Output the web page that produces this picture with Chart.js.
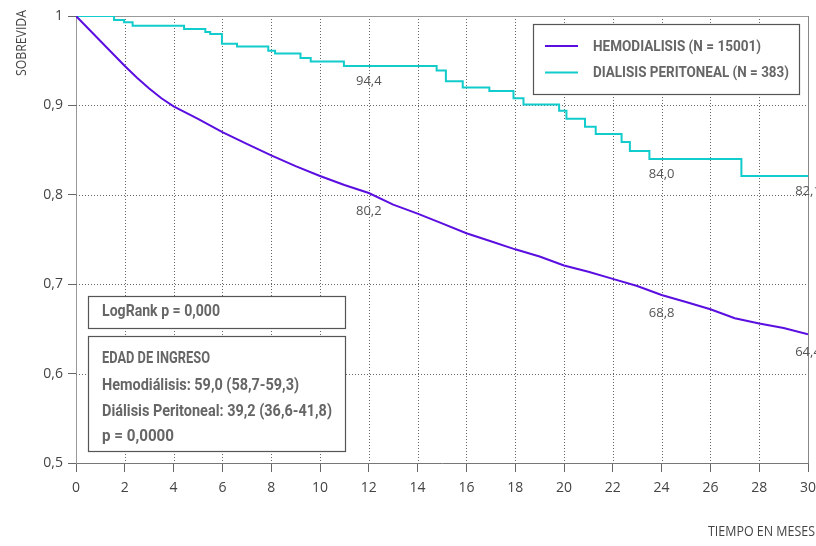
<!DOCTYPE html>
<html>
<head>
<meta charset="utf-8">
<script src="https://cdn.jsdelivr.net/npm/chart.js@4/dist/chart.umd.min.js"></script>
<style>
html, body { margin: 0; padding: 0; background: #fff; }
#wrap { width: 816px; height: 546px; }
</style>
</head>
<body>
<div id="wrap"><canvas id="chartCanvas" width="816" height="546"></canvas></div>
<script>
// Sobrevida - hemodialisis (curva casi continua)
const hemoMonths = [0, 0.5, 1, 1.5, 2, 2.5, 3, 3.5, 4, 5, 6, 7, 8, 9, 10, 11, 12, 13, 14, 15, 16, 17, 18, 19, 20, 21, 22, 23, 24, 25, 26, 27, 28, 29, 30];
const hemoSurv = [1, 0.986, 0.972, 0.958, 0.944, 0.931, 0.919, 0.908, 0.899, 0.885, 0.870, 0.857, 0.844, 0.832, 0.821, 0.811, 0.802, 0.789, 0.779, 0.768, 0.757, 0.748, 0.739, 0.731, 0.721, 0.714, 0.706, 0.698, 0.688, 0.680, 0.672, 0.662, 0.656, 0.651, 0.644];

// Sobrevida - dialisis peritoneal (escalones)
const periMonths = [0, 1.56, 1.97, 2.32, 4.43, 5.3, 5.5, 5.98, 6.6, 7.88, 8.16, 9.2, 9.62, 10.98, 14.78, 15.16, 15.85, 16.94, 17.93, 18.34, 19.8, 20.1, 20.86, 21.3, 22.36, 22.7, 23.5, 27.27, 30];
const periSurv = [1, 0.9955, 0.993, 0.989, 0.9855, 0.982, 0.98, 0.969, 0.966, 0.961, 0.958, 0.953, 0.949, 0.944, 0.939, 0.927, 0.920, 0.916, 0.908, 0.901, 0.894, 0.885, 0.876, 0.868, 0.859, 0.849, 0.840, 0.821, 0.821];

const labelMonths = [12, 24, 30];
const xTicks = [0, 2, 4, 6, 8, 10, 12, 14, 16, 18, 20, 22, 24, 26, 28, 30];
const yTicks = [0.5, 0.6, 0.7, 0.8, 0.9, 1];

const statLines = ['EDAD DE INGRESO', 'Hemodiálisis: 59,0 (58,7-59,3)', 'Diálisis Peritoneal: 39,2 (36,6-41,8)', 'p = 0,0000'];
const logRankText = 'LogRank p = 0,000';

const toPoints = (xs, ys) => xs.map((x, i) => ({ x: x, y: ys[i] }));

// valor de la curva en un mes dado (ultimo punto <= mes)
function valueAt(xs, ys, m) {
    let v = ys[0];
    for (let i = 0; i < xs.length; i++) {
        if (xs[i] <= m + 1e-9) v = ys[i];
    }
    return v;
}

const fmt = v => (v * 100).toFixed(1).replace('.', ',');

// texto ajustado a un ancho fijo (fuente condensada)
function fitText(ctx, text, x, y, w) {
    const m = ctx.measureText(text).width;
    ctx.save();
    ctx.translate(x, y);
    ctx.scale(w / m, 1);
    ctx.fillText(text, 0, 0);
    ctx.restore();
}

const extras = {
    id: 'extras',
    beforeDatasetsDraw(chart) {
        const { ctx, chartArea: a } = chart;
        const xs = chart.scales.x, ys = chart.scales.y;
        ctx.save();
        // rejilla punteada
        ctx.lineWidth = 1;
        ctx.strokeStyle = '#666';
        ctx.setLineDash([1, 2]);
        ctx.beginPath();
        xs.ticks.forEach(t => {
            const px = Math.round(xs.getPixelForValue(t.value)) + 0.5;
            if (t.value > xs.min && t.value < xs.max) {
                ctx.moveTo(px, a.top);
                ctx.lineTo(px, a.bottom);
            }
        });
        ys.ticks.forEach(t => {
            const py = Math.round(ys.getPixelForValue(t.value)) + 0.5;
            if (t.value > ys.min && t.value < ys.max) {
                ctx.moveTo(a.left, py);
                ctx.lineTo(a.right, py);
            }
        });
        ctx.stroke();
        ctx.setLineDash([]);
        // marco superior y derecho
        ctx.strokeStyle = '#999';
        ctx.beginPath();
        ctx.moveTo(a.left, Math.round(a.top) + 0.5);
        ctx.lineTo(a.right, Math.round(a.top) + 0.5);
        ctx.stroke();
        ctx.strokeStyle = '#888';
        ctx.beginPath();
        ctx.moveTo(Math.round(a.right) + 0.5, a.top);
        ctx.lineTo(Math.round(a.right) + 0.5, a.bottom);
        ctx.stroke();
        ctx.restore();
    },
    afterDatasetsDraw(chart) {
        const { ctx } = chart;
        const xs = chart.scales.x, ys = chart.scales.y;

        // etiquetas de valores
        ctx.save();
        ctx.font = '13px "Open Sans", sans-serif';
        ctx.fillStyle = '#555';
        ctx.textAlign = 'center';
        ctx.textBaseline = 'middle';
        labelMonths.forEach(m => {
            const h = valueAt(hemoMonths, hemoSurv, m);
            const p = valueAt(periMonths, periSurv, m);
            ctx.fillText(fmt(h), xs.getPixelForValue(m), ys.getPixelForValue(h) + 18);
            ctx.fillText(fmt(p), xs.getPixelForValue(m), ys.getPixelForValue(p) + 15);
        });
        ctx.restore();

        // leyenda
        ctx.save();
        ctx.fillStyle = '#fff';
        ctx.fillRect(533, 24, 266, 70);
        ctx.strokeStyle = '#555';
        ctx.lineWidth = 1.2;
        ctx.strokeRect(533.5, 24.5, 266, 70);
        const legW = [168, 196];
        chart.data.datasets.forEach((ds, i) => {
            const y = 46 + i * 26.5;
            ctx.strokeStyle = ds.borderColor;
            ctx.lineWidth = 2;
            ctx.beginPath();
            ctx.moveTo(545, y);
            ctx.lineTo(578, y);
            ctx.stroke();
            ctx.font = 'bold 14px Roboto, sans-serif';
            ctx.fillStyle = '#666';
            ctx.textBaseline = 'middle';
            fitText(ctx, ds.label, 593, y + 1, legW[i]);
        });
        ctx.restore();

        // cuadros de estadisticos
        ctx.save();
        ctx.fillStyle = '#fff';
        ctx.fillRect(88, 296, 258, 32);
        ctx.fillRect(88, 336, 258, 116);
        ctx.strokeStyle = '#555';
        ctx.lineWidth = 1.2;
        ctx.strokeRect(88.5, 296.5, 257, 32);
        ctx.strokeRect(88.5, 336.5, 257, 115);
        ctx.font = 'bold 16px Roboto, sans-serif';
        ctx.fillStyle = '#666';
        ctx.textBaseline = 'middle';
        fitText(ctx, logRankText, 102, 312, 118);
        const statW = [108, 197, 230, 72];
        const statY = [359, 386, 412, 437];
        statLines.forEach((t, i) => fitText(ctx, t, 102, statY[i], statW[i]));
        ctx.restore();

        // titulos de ejes
        ctx.save();
        ctx.font = '14px "Open Sans", sans-serif';
        ctx.fillStyle = '#444';
        ctx.textBaseline = 'middle';
        fitText(ctx, 'TIEMPO EN MESES', 708, 532, 107);
        ctx.translate(22.5, 76);
        ctx.rotate(-Math.PI / 2);
        fitText(ctx, 'SOBREVIDA', 0, 0, 66);
        ctx.restore();
    }
};

const ctx = document.getElementById('chartCanvas').getContext('2d');
new Chart(ctx, {
    type: 'line',
    data: {
        datasets: [{
            label: 'HEMODIALISIS (N = 15001)',
            data: toPoints(hemoMonths, hemoSurv),
            borderColor: '#5a0ee0',
            borderWidth: 2,
            pointRadius: 0,
            tension: 0,
            fill: false
        }, {
            label: 'DIALISIS PERITONEAL (N = 383)',
            data: toPoints(periMonths, periSurv),
            borderColor: '#12cccc',
            borderWidth: 2,
            pointRadius: 0,
            stepped: 'before',
            fill: false
        }]
    },
    options: {
        responsive: false,
        animation: false,
        layout: { padding: { top: 16, right: 8, left: 0, bottom: 0 } },
        plugins: {
            legend: { display: false },
            tooltip: { enabled: false }
        },
        scales: {
            x: {
                type: 'linear',
                min: 0,
                max: 30,
                afterBuildTicks: s => { s.ticks = xTicks.map(v => ({ value: v })); },
                afterFit: s => { s.height = 83; s.paddingLeft = 0; s.paddingRight = 0; },
                grid: { drawOnChartArea: false, tickLength: 9, tickColor: '#666', tickWidth: 1 },
                border: { display: true, color: '#777', width: 1 },
                ticks: {
                    color: '#444',
                    font: { family: 'Open Sans', size: 14 },
                    padding: 8,
                    maxRotation: 0,
                    callback: v => String(v)
                }
            },
            y: {
                min: 0.5,
                max: 1,
                afterBuildTicks: s => { s.ticks = yTicks.map(v => ({ value: v })); },
                afterFit: s => { s.width = 76; s.paddingTop = 0; s.paddingBottom = 0; },
                grid: { drawOnChartArea: false, tickLength: 8, tickColor: '#666', tickWidth: 1 },
                border: { display: true, color: '#999', width: 1 },
                ticks: {
                    color: '#444',
                    font: { family: 'Open Sans', size: 14 },
                    padding: 5,
                    callback: v => v === 1 ? '1' : v.toFixed(1).replace('.', ',')
                }
            }
        }
    },
    plugins: [extras]
});
</script>
</body>
</html>
